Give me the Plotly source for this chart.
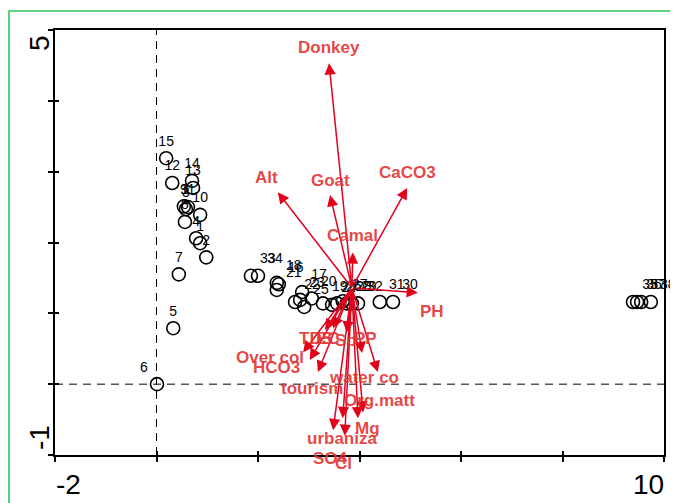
import plotly.graph_objects as go

# ---- sample scores ----
site_ids = [15, 12, 14, 13, 9, 11, 10, 3, 8, 4, 1, 2, 7, 5, 6,
            16, 17, 18, 19, 20, 21, 22, 23, 24, 25, 26, 27, 28, 29, 30, 31, 32, 33, 34,
            35, 36, 37, 38]
site_x = [0.19, 0.31, 0.70, 0.72, 0.54, 0.62, 0.86, 0.58, 0.56, 0.78, 0.86, 0.98, 0.44, 0.33, 0.01,
          2.41, 2.87, 2.37, 3.28, 3.06, 2.37, 2.73, 2.83, 3.46, 2.91, 3.56, 3.67, 3.75, 3.85, 4.66, 4.40, 3.97, 1.86, 2.00,
          9.39, 9.47, 9.55, 9.74]
site_y = [3.19, 2.84, 2.87, 2.77, 2.51, 2.50, 2.39, 2.47, 2.29, 2.06, 1.99, 1.79, 1.55, 0.79, 0.00,
          1.41, 1.30, 1.43, 1.14, 1.21, 1.33, 1.16, 1.19, 1.12, 1.09, 1.14, 1.17, 1.14, 1.14, 1.16, 1.16, 1.14, 1.53, 1.53,
          1.16, 1.16, 1.16, 1.16]

# ---- environmental variable arrows ----
origin_x = 3.85
origin_y = 1.36
env_names = ["Donkey", "Alt", "Goat", "CaCO3", "Camal", "PH", "Over col", "HCO3", "tourism",
             "TDS", "EC", "Sp", "PP", "water co", "Org.matt", "Mg", "urbaniza", "SO4", "Cl"]
env_x = [3.40, 2.39, 3.42, 4.94, 3.87, 5.15, 2.89, 3.02, 3.18,
         3.32, 3.48, 3.75, 4.05, 4.36, 4.07, 3.97, 3.48, 3.67, 3.71]
env_y = [4.53, 2.71, 2.67, 2.77, 1.86, 1.29, 0.45, 0.34, 0.17,
         0.76, 0.79, 0.73, 0.44, 0.17, -0.40, -0.48, -0.65, -0.48, -0.73]
label_x = [3.40, 2.16, 3.42, 4.94, 3.87, 5.43, 2.24, 2.37, 3.06,
           3.14, 3.38, 3.73, 4.11, 4.09, 4.40, 4.15, 3.66, 3.42, 3.68]
label_y = [4.75, 2.92, 2.88, 2.99, 2.10, 1.03, 0.37, 0.24, -0.06,
           0.65, 0.65, 0.62, 0.65, 0.10, -0.23, -0.62, -0.76, -1.05, -1.12]

x_range = [-2, 10]
y_range = [-1, 5]
x_ticks = [-2, 0, 2, 4, 6, 8, 10]
y_ticks = [-1, 0, 1, 2, 3, 4, 5]

FONT = "Liberation Sans, Arial, sans-serif"
ARROW_C = "#e3001b"
LABEL_C = "rgba(228,52,52,0.92)"

fig = go.Figure()

pos = []
for sid in site_ids:
    if sid == 6:
        pos.append("top left")
    elif sid <= 15:
        pos.append("top center")
    else:
        pos.append("top right")

fig.add_trace(go.Scatter(
    x=site_x, y=site_y, mode="markers+text",
    text=[str(s) for s in site_ids], textposition=pos,
    textfont=dict(family=FONT, size=14, color="black"),
    marker=dict(symbol="circle-open", size=13, color="black", line=dict(width=1.6, color="black")),
    cliponaxis=False, hoverinfo="skip", showlegend=False))

# invisible trace on the overlay axes that carry the inner halves of the ticks
fig.add_trace(go.Scatter(x=[x_range[0]], y=[y_range[0]], xaxis="x2", yaxis="y2",
                         mode="markers", marker=dict(opacity=0), hoverinfo="skip",
                         showlegend=False))

for nx, ny in zip(env_x, env_y):
    fig.add_annotation(x=nx, y=ny, ax=origin_x, ay=origin_y,
                       xref="x", yref="y", axref="x", ayref="y",
                       text="", showarrow=True, arrowhead=2, arrowsize=1.5,
                       arrowwidth=1.5, arrowcolor=ARROW_C)

# variable labels (labels below the y range are placed in paper units so they stay visible)
for name, lx, ly in zip(env_names, label_x, label_y):
    if y_range[0] <= ly <= y_range[1]:
        yref, yy = "y", ly
    else:
        yref, yy = "paper", (ly - y_range[0]) / (y_range[1] - y_range[0])
    fig.add_annotation(x=lx, y=yy, xref="x", yref=yref, text=name, showarrow=False,
                       xanchor="center", yanchor="middle",
                       font=dict(family=FONT, size=17, color=LABEL_C, weight="bold"))

fig.add_shape(type="line", x0=0, x1=0, y0=y_range[0], y1=y_range[1], xref="x", yref="y",
              line=dict(color="black", width=1, dash="8px,6px"), layer="below")
fig.add_shape(type="line", x0=x_range[0], x1=x_range[1], y0=0, y1=0, xref="x", yref="y",
              line=dict(color="black", width=1, dash="8px,6px"), layer="below")

fig.add_shape(type="rect", xref="paper", yref="paper",
              x0=-0.0755, x1=1.05, y0=-0.2, y1=1.0447,
              line=dict(color="#2fc45a", width=1.6), fillcolor="rgba(0,0,0,0)")

fig.add_annotation(x=0, y=0, xref="paper", yref="paper", text=str(x_ticks[0]),
                   showarrow=False, xanchor="left", yanchor="top", xshift=-1, yshift=-12,
                   font=dict(family=FONT, size=28, color="black"))
fig.add_annotation(x=1, y=0, xref="paper", yref="paper", text=str(x_ticks[-1]),
                   showarrow=False, xanchor="right", yanchor="top", xshift=2, yshift=-12,
                   font=dict(family=FONT, size=28, color="black"))
fig.add_annotation(x=0, y=1, xref="paper", yref="paper", text=str(y_ticks[-1]),
                   showarrow=False, xanchor="center", yanchor="middle", xshift=-16, yshift=-13,
                   textangle=-90, font=dict(family=FONT, size=28, color="black"))
fig.add_annotation(x=0, y=0, xref="paper", yref="paper", text=str(y_ticks[0]),
                   showarrow=False, xanchor="center", yanchor="middle", xshift=-16, yshift=17,
                   textangle=-90, font=dict(family=FONT, size=28, color="black"))

axis_common = dict(showgrid=False, zeroline=False, tickcolor="black", tickwidth=1.5)
fig.update_layout(
    xaxis=dict(range=x_range, tickvals=x_ticks, ticktext=[""] * len(x_ticks),
               ticks="outside", ticklen=5, showline=True, linewidth=2, linecolor="black",
               mirror=True, **axis_common),
    yaxis=dict(range=y_range, tickvals=y_ticks, ticktext=[""] * len(y_ticks),
               ticks="outside", ticklen=5, showline=True, linewidth=2, linecolor="black",
               mirror=True, **axis_common),
    xaxis2=dict(range=x_range, tickvals=x_ticks, ticktext=[""] * len(x_ticks),
                ticks="inside", ticklen=4, showline=False, overlaying="x", anchor="y2",
                side="bottom", **axis_common),
    yaxis2=dict(range=y_range, tickvals=y_ticks, ticktext=[""] * len(y_ticks),
                ticks="inside", ticklen=4, showline=False, overlaying="y", anchor="x2",
                side="left", **axis_common),
    width=670, height=495, margin=dict(l=47, r=14, t=22, b=48),
    plot_bgcolor="white", paper_bgcolor="white", showlegend=False)

fig.write_html("out.html")
